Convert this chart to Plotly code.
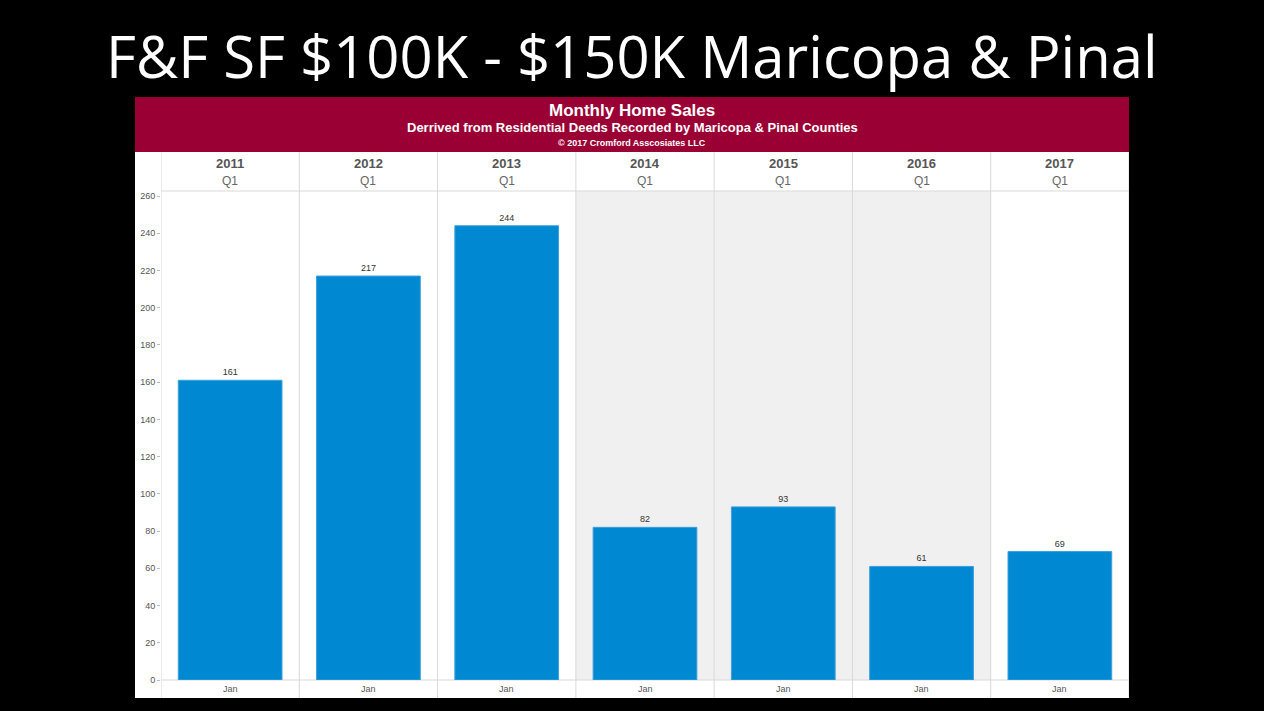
import plotly.graph_objects as go

# Data
years = ["2011", "2012", "2013", "2014", "2015", "2016", "2017"]
quarter_labels = ["Q1", "Q1", "Q1", "Q1", "Q1", "Q1", "Q1"]
month_labels = ["Jan", "Jan", "Jan", "Jan", "Jan", "Jan", "Jan"]
sales = [161, 217, 244, 82, 93, 61, 69]
shaded_years = ["2014", "2015", "2016"]
y_ticks = [0, 20, 40, 60, 80, 100, 120, 140, 160, 180, 200, 220, 240, 260]

W, H = 1264, 711
# plot area in pixels
L, R, T, B = 161, 1129, 191, 680


def px(x):
    return (x - L) / (R - L)


def py(y):
    return (B - y) / (B - T)


FONT = "Liberation Sans, Arial, sans-serif"
BAR = "#0089D3"
MAROON = "#9B0035"
GRID = "#D9D9D9"

fig = go.Figure(
    go.Bar(
        x=years,
        y=sales,
        marker=dict(color=BAR, line=dict(color="#3D9FDB", width=1)),
        text=sales,
        textposition="outside",
        textfont=dict(family=FONT, size=9, color="#333333"),
        cliponaxis=False,
        width=0.75,
    )
)

shapes = [
    # white panel
    dict(type="rect", xref="paper", yref="paper", x0=px(135), x1=px(1129),
         y0=py(698), y1=py(97), fillcolor="white", line_width=0, layer="below"),
    # maroon header band
    dict(type="rect", xref="paper", yref="paper", x0=px(135), x1=px(1129),
         y0=py(152), y1=py(97), fillcolor=MAROON, line_width=0, layer="below"),
]

for yr in shaded_years:
    i = years.index(yr)
    shapes.append(dict(type="rect", xref="x", yref="paper", x0=i - 0.5, x1=i + 0.5,
                       y0=0, y1=1, fillcolor="#F0F0F0", line_width=0, layer="below"))

# column separators
for i in range(len(years) + 1):
    shapes.append(dict(type="line", xref="x", yref="paper", x0=i - 0.5, x1=i - 0.5,
                       y0=py(698), y1=py(152), line=dict(color=GRID, width=1), layer="below"))

# header and footer rules
for yy in (T, B):
    shapes.append(dict(type="line", xref="paper", yref="paper", x0=0, x1=1,
                       y0=py(yy), y1=py(yy), line=dict(color=GRID, width=1), layer="below"))


def note(text, x, y, size, color, xref="paper", family=FONT):
    return dict(text=text, x=x, y=y, xref=xref, yref="paper", showarrow=False,
                xanchor="center", yanchor="middle",
                font=dict(family=family, size=size, color=color))


annotations = [
    note("F&F SF $100K - $150K Maricopa & Pinal", px(632), py(55), 58, "white",
         family="Open Sans, sans-serif"),
    note("<b>Monthly Home Sales</b>", px(632), py(110), 17, "white"),
    note("<b>Derrived from Residential Deeds Recorded by Maricopa & Pinal Counties</b>",
         px(632), py(127), 13, "white"),
    note("<b>© 2017 Cromford Asscosiates LLC</b>", px(632), py(143), 9, "white"),
]

for i, (yr, q, m) in enumerate(zip(years, quarter_labels, month_labels)):
    annotations.append(note("<b>" + yr + "</b>", i, py(163), 13, "#555555", xref="x"))
    annotations.append(note(q, i, py(181), 12, "#666666", xref="x"))
    annotations.append(note(m, i, py(689), 9, "#555555", xref="x"))

fig.update_layout(
    width=W,
    height=H,
    margin=dict(l=L, r=W - R, t=T, b=H - B, pad=0),
    paper_bgcolor="black",
    plot_bgcolor="rgba(0,0,0,0)",
    showlegend=False,
    shapes=shapes,
    annotations=annotations,
    bargap=0.25,
    xaxis=dict(type="category", showticklabels=False, showgrid=False, zeroline=False,
               showline=False, range=[-0.5, len(years) - 0.5]),
    yaxis=dict(range=[0, (B - T) / ((B - 196) / 260)], tickvals=y_ticks,
               showgrid=False, zeroline=False, showline=False,
               ticks="outside", ticklen=3, tickcolor="#BBBBBB",
               tickfont=dict(family=FONT, size=9, color="#555555")),
)

fig.write_html("out.html", config={"displayModeBar": False},
               post_script="document.body.style.margin='0';")
